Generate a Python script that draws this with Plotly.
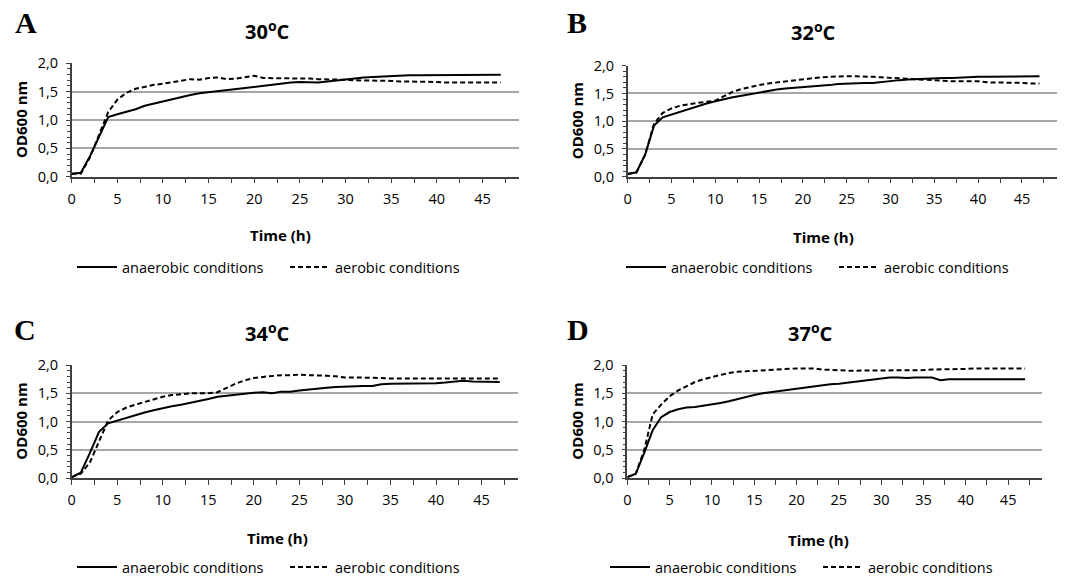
import plotly.graph_objects as go

hours = list(range(48))

# Panel A: 30 C
a_anaer = [0.05, 0.07, 0.36, 0.72, 1.05, 1.10, 1.14, 1.19, 1.25, 1.29, 1.33, 1.37, 1.41, 1.44, 1.47, 1.49, 1.51, 1.52, 1.54, 1.57, 1.59, 1.61, 1.62, 1.64, 1.66, 1.67, 1.67, 1.66, 1.68, 1.70, 1.72, 1.74, 1.75, 1.76, 1.77, 1.78, 1.79, 1.79, 1.79, 1.79, 1.79, 1.79, 1.79, 1.80, 1.80, 1.80, 1.80, 1.80]
a_aer = [0.05, 0.05, 0.34, 0.74, 1.14, 1.36, 1.48, 1.55, 1.59, 1.62, 1.64, 1.67, 1.69, 1.72, 1.71, 1.74, 1.75, 1.72, 1.73, 1.75, 1.78, 1.74, 1.74, 1.74, 1.73, 1.73, 1.73, 1.72, 1.72, 1.71, 1.71, 1.70, 1.70, 1.70, 1.70, 1.69, 1.68, 1.68, 1.68, 1.68, 1.67, 1.66, 1.66, 1.66, 1.66, 1.66, 1.66, 1.66]

# Panel B: 32 C
b_anaer = [0.05, 0.08, 0.40, 0.92, 1.07, 1.12, 1.17, 1.23, 1.28, 1.32, 1.36, 1.40, 1.43, 1.46, 1.49, 1.52, 1.55, 1.57, 1.59, 1.60, 1.62, 1.63, 1.64, 1.65, 1.67, 1.68, 1.69, 1.69, 1.69, 1.71, 1.73, 1.74, 1.75, 1.76, 1.76, 1.77, 1.78, 1.78, 1.79, 1.79, 1.80, 1.80, 1.80, 1.81, 1.81, 1.81, 1.80, 1.81]
b_aer = [0.05, 0.08, 0.40, 0.95, 1.15, 1.23, 1.28, 1.31, 1.33, 1.35, 1.37, 1.45, 1.53, 1.58, 1.62, 1.65, 1.68, 1.70, 1.72, 1.74, 1.75, 1.77, 1.79, 1.80, 1.81, 1.81, 1.81, 1.81, 1.80, 1.79, 1.78, 1.77, 1.76, 1.76, 1.75, 1.74, 1.73, 1.72, 1.72, 1.72, 1.72, 1.70, 1.70, 1.70, 1.70, 1.69, 1.68, 1.68]

# Panel C: 34 C
c_anaer = [0.02, 0.10, 0.45, 0.82, 0.97, 1.02, 1.07, 1.12, 1.16, 1.20, 1.24, 1.27, 1.30, 1.33, 1.37, 1.40, 1.44, 1.46, 1.48, 1.49, 1.51, 1.52, 1.50, 1.53, 1.53, 1.55, 1.57, 1.59, 1.60, 1.61, 1.62, 1.62, 1.63, 1.63, 1.66, 1.67, 1.67, 1.68, 1.68, 1.67, 1.68, 1.69, 1.70, 1.72, 1.71, 1.71, 1.70, 1.70]
c_aer = [0.02, 0.08, 0.28, 0.65, 1.02, 1.17, 1.25, 1.30, 1.35, 1.40, 1.44, 1.47, 1.49, 1.50, 1.50, 1.50, 1.52, 1.60, 1.67, 1.73, 1.77, 1.79, 1.81, 1.82, 1.82, 1.83, 1.82, 1.82, 1.81, 1.80, 1.78, 1.78, 1.78, 1.78, 1.77, 1.76, 1.76, 1.76, 1.76, 1.76, 1.76, 1.76, 1.76, 1.76, 1.76, 1.76, 1.76, 1.76]

# Panel D: 37 C
d_anaer = [0.02, 0.08, 0.45, 0.85, 1.08, 1.17, 1.22, 1.25, 1.26, 1.28, 1.30, 1.33, 1.36, 1.40, 1.43, 1.47, 1.50, 1.52, 1.55, 1.57, 1.59, 1.60, 1.62, 1.64, 1.66, 1.67, 1.69, 1.71, 1.73, 1.75, 1.77, 1.78, 1.78, 1.77, 1.78, 1.78, 1.78, 1.73, 1.75, 1.75, 1.75, 1.76, 1.76, 1.76, 1.76, 1.75, 1.75, 1.75]
d_aer = [0.02, 0.08, 0.50, 1.13, 1.30, 1.45, 1.55, 1.63, 1.70, 1.75, 1.79, 1.83, 1.86, 1.88, 1.89, 1.90, 1.91, 1.92, 1.93, 1.93, 1.94, 1.94, 1.94, 1.92, 1.91, 1.90, 1.90, 1.90, 1.90, 1.90, 1.91, 1.91, 1.91, 1.91, 1.91, 1.91, 1.92, 1.92, 1.93, 1.93, 1.93, 1.94, 1.94, 1.94, 1.94, 1.94, 1.94, 1.94]

panel_letters = ["A", "B", "C", "D"]
panel_titles = ["30<sup>o</sup>C", "32<sup>o</sup>C", "34<sup>o</sup>C", "37<sup>o</sup>C"]
series_names = ["anaerobic conditions", "aerobic conditions"]
x_title = "Time (h)"
y_title = "OD600 nm"

W, H = 1072, 577
FONT = "Open Sans"

# pixel layout of each panel: (left, right, top, bottom)
boxes = [
    (71.7, 519.0, 63.3, 176.7),
    (627.7, 1057.0, 65.7, 176.7),
    (71.7, 518.0, 365.0, 478.3),
    (627.3, 1042.0, 365.0, 478.3),
]
title_pos = [(267, 31), (813, 32), (267, 332), (810, 332)]
letter_pos = [(26, 22), (577, 22), (25, 330), (578, 330)]
xtitle_pos = [(280, 235), (823, 237), (277, 538), (818, 540)]
ytitle_x = [21, 577, 21, 577]
legend_pos = [(72, 267), (621, 267), (72, 567), (605, 567)]

data = [(a_anaer, a_aer), (b_anaer, b_aer), (c_anaer, c_aer), (d_anaer, d_aer)]

fig = go.Figure()
annotations = []
layout_axes = {}


def ann(text, x, y, size, family=FONT, angle=0):
    return dict(text=text, x=x / W, y=1 - y / H, xref="paper", yref="paper",
                xanchor="center", yanchor="middle", showarrow=False, textangle=angle,
                font=dict(family=family, size=size, color="black"))


for i, (an, ae) in enumerate(data):
    k = "" if i == 0 else str(i + 1)
    leg = "legend" if i == 0 else f"legend{i + 1}"
    l, r, t, b = boxes[i]
    fig.add_trace(go.Scatter(x=hours, y=an, mode="lines", name=series_names[0],
                             line=dict(color="black", width=2), xaxis="x" + k, yaxis="y" + k,
                             legend=leg))
    fig.add_trace(go.Scatter(x=hours, y=ae, mode="lines", name=series_names[1],
                             line=dict(color="black", width=2, dash="5px,3px"),
                             xaxis="x" + k, yaxis="y" + k, legend=leg))
    layout_axes["xaxis" + k] = dict(
        domain=[l / W, r / W], anchor="y" + k, range=[0, 49],
        tickmode="linear", tick0=0, dtick=5, ticks="outside", ticklen=5,
        tickcolor="#404040", showline=True, linecolor="#404040", linewidth=1.5,
        showgrid=False, zeroline=False, ticklabelstandoff=3,
        minor=dict(dtick=2.5, ticks="outside", ticklen=5, tickcolor="#404040", showgrid=False),
        tickfont=dict(family=FONT, size=14.5, color="black"),
    )
    layout_axes["yaxis" + k] = dict(
        domain=[1 - b / H, 1 - t / H], anchor="x" + k, range=[0, 2.0],
        tickmode="linear", tick0=0, dtick=0.5, tickformat=".1f",
        ticks="outside", ticklen=4, tickcolor="#404040",
        showline=True, linecolor="#404040", linewidth=1.5, ticklabelstandoff=5,
        showgrid=True, gridcolor="#a6a6a6", gridwidth=1.5, zeroline=False,
        minor=dict(dtick=0.1, ticks="outside", ticklen=3, tickcolor="#404040", showgrid=False),
        tickfont=dict(family=FONT, size=14.5, color="black"),
    )
    lx, ly = legend_pos[i]
    layout_axes[leg] = dict(
        x=lx / W, y=1 - ly / H, xanchor="left", yanchor="middle",
        orientation="h", font=dict(family=FONT, size=14.5, color="black"),
        bgcolor="rgba(0,0,0,0)", itemwidth=40, tracegroupgap=0,
        entrywidth=158,
    )
    tx, ty = title_pos[i]
    annotations.append(ann(f"<b>{panel_titles[i]}</b>", tx, ty, 20))
    ax_, ay_ = letter_pos[i]
    annotations.append(ann(f"<b>{panel_letters[i]}</b>", ax_, ay_, 30, family="Liberation Serif"))
    xx, xy = xtitle_pos[i]
    annotations.append(ann(f"<b>{x_title}</b>", xx, xy, 15))
    annotations.append(ann(f"<b>{y_title}</b>", ytitle_x[i], (t + b) / 2, 15, angle=-90))

fig.update_layout(
    width=W, height=H, margin=dict(l=0, r=0, t=0, b=0, autoexpand=False),
    paper_bgcolor="white", plot_bgcolor="white",
    separators=", ", showlegend=True,
    annotations=annotations,
    **layout_axes,
)

fig.write_html("out.html", config={"displayModeBar": False},
               post_script="document.body.style.margin='0';document.body.style.overflow='hidden';")
